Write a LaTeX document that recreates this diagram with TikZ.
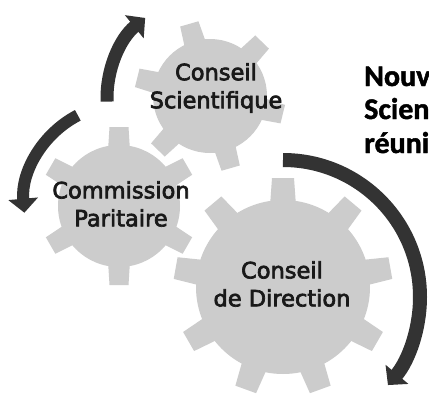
\documentclass[tikz,border=0pt]{standalone}
\usepackage{fontspec}
\setmainfont{DejaVu Sans}
\newfontfamily\gearfont{DejaVu Sans}[FakeBold=3]
\newfontfamily\sidefont{Carlito}[BoldFeatures={FakeBold=1.5}]
\usetikzlibrary{arrows.meta}
\definecolor{gearfill}{RGB}{204,204,204}
\definecolor{arrowdark}{RGB}{51,51,51}
% #1 cx, #2 cy, #3 body radius, #4 tip radius, #5 teeth, #6 first angle, #7 half base width, #8 half tip width
\newcommand\gearshape[8]{%
  \fill[gearfill] (#1,#2) circle[radius=#3];
  \foreach \k in {1,...,#5}{%
    \pgfmathsetmacro\gang{#6+(\k-1)*360/#5}
    \fill[gearfill,shift={(#1,#2)},rotate=\gang]
      (#3-6,-#7) -- (#4,-#8) -- (#4,#8) -- (#3-6,#7) -- cycle;
  }%
}
\begin{document}
\begin{tikzpicture}[x=1pt,y=-1pt,
  geartext/.style={align=center,inner sep=0pt,text=black!90,font=\gearfont\fontsize{22.5}{28}\selectfont},
  sidetext/.style={anchor=base west,inner sep=0pt,font=\sidefont\bfseries\fontsize{30}{33}\selectfont},
  curvedarrow/.style={draw=arrowdark,line width=#1,-{Triangle[width=29pt,length=14pt]}}]
\useasboundingbox (0,0) rectangle (429,394);
\fill[white] (0,0) rectangle (429,394);
% gears
\gearshape{210}{96}{57}{75}{6}{46}{11}{9.5}
\gearshape{119}{206}{61}{79}{6}{90}{11}{9.5}
\gearshape{283}{287}{87}{109}{9}{90}{13}{11}
% gear labels
\node[geartext] (cs) at (216,88) {Conseil\\Scientifique};
\node[geartext] (cp) at (121,204) {Commission\\Paritaire};
\node[geartext] (cd) at (282,284) {Conseil\\de Direction};
% arrows
\coordinate (a1s) at ([shift={(210,98)}]-182:103);
\coordinate (a2s) at ([shift={(124,204)}]-117.5:100);
\coordinate (a3s) at ([shift={(283,297)}]-90:137);
\draw[curvedarrow=13pt] (a1s) arc[start angle=-182,end angle=-129,radius=103];
\draw[curvedarrow=12pt] (a2s) arc[start angle=-117.5,end angle=-185,radius=100];
\draw[curvedarrow=14pt] (a3s) arc[start angle=-90,end angle=40,radius=137];
% side text
\node[sidetext] (t1) at (364,86) {Nouv};
\node[sidetext] (t2) at (364,119) {Scien};
\node[sidetext] (t3) at (364,153) {réuni};
\end{tikzpicture}
\end{document}
